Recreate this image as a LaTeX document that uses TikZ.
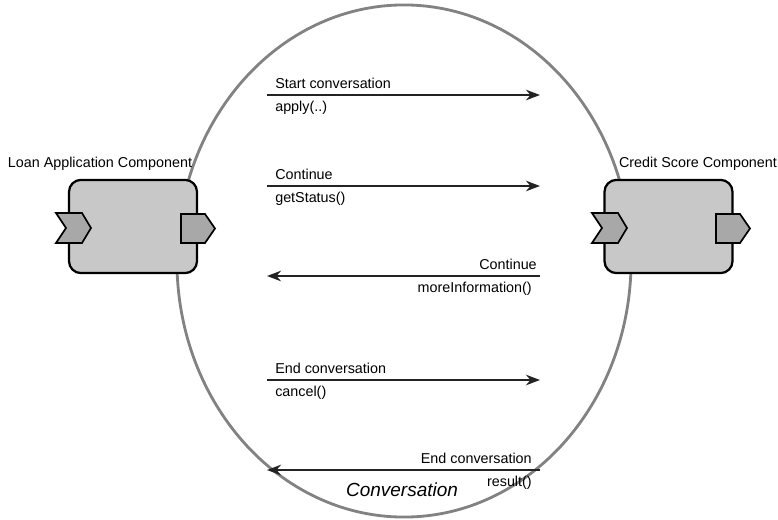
\documentclass[tikz,border=0pt]{standalone}
\usepackage{fontspec}
\setmainfont{Liberation Sans}
\definecolor{ConvGray}{RGB}{130,130,130}
\definecolor{BoxGray}{RGB}{200,200,200}
\definecolor{PortGray}{RGB}{168,168,168}
\definecolor{MsgDark}{RGB}{35,35,35}
\usetikzlibrary{shapes.geometric, arrows.meta, positioning}

\begin{document}
\begin{tikzpicture}[x=0.025cm, y=-0.025cm,
    comp/.style={rounded corners=8.5pt, minimum width=3.2cm, minimum height=2.33cm,
                 draw=black, fill=BoxGray, line width=1.6pt, inner sep=0pt},
    port/.style={draw=black, fill=PortGray, line width=1.2pt, line join=miter},
    msg/.style={-{Stealth[length=10pt, width=7.5pt]}, line width=1.5pt, MsgDark},
    lbl/.style={inner sep=0pt, font=\fontsize{10.2}{12}\selectfont}
  ]
    \useasboundingbox (0,0) rectangle (778,520);

    % Conversation boundary
    \node[ellipse, draw=ConvGray, line width=2pt, inner sep=0pt,
          minimum width=11.35cm, minimum height=12.8cm] (conv) at (404,261) {};
    \node[font=\fontsize{13.5}{16}\selectfont\itshape, inner sep=0pt] (convlbl) at (402,490) {Conversation};

    % Loan application component
    \node[comp] (loan) at (133,226.5) {};
    \node[lbl, anchor=base] (loanlbl) at (100,167) {Loan Application Component};
    \draw[port] (56,213) -- (82,213) -- (91,228) -- (82,243) -- (56,243) -- (66,228) -- cycle;
    \draw[port] (181,214) -- (205,214) -- (215,228.5) -- (205,243) -- (181,243) -- cycle;

    % Credit score component
    \node[comp] (credit) at (668.5,226.5) {};
    \node[lbl, anchor=base] (creditlbl) at (698,167) {Credit Score Component};
    \draw[port] (592,213) -- (618,213) -- (627,228) -- (618,243) -- (592,243) -- (602,228) -- cycle;
    \draw[port] (716,214) -- (740,214) -- (750,228.5) -- (740,243) -- (716,243) -- cycle;

    % Message ends
    \coordinate (m1w) at (267,95);  \coordinate (m1e) at (540,95);
    \coordinate (m2w) at (267,186); \coordinate (m2e) at (540,186);
    \coordinate (m3w) at (267,276); \coordinate (m3e) at (540,276);
    \coordinate (m4w) at (267,380); \coordinate (m4e) at (540,380);
    \coordinate (m5w) at (267,470); \coordinate (m5e) at (540,470);

    % Messages
    \draw[msg] (m1w) -- (m1e);
    \node[lbl, anchor=base west] (m1top) at (275,88) {Start conversation};
    \node[lbl, anchor=base west] (m1bot) at (275,111) {apply(..)};

    \draw[msg] (m2w) -- (m2e);
    \node[lbl, anchor=base west] (m2top) at (275,179) {Continue};
    \node[lbl, anchor=base west] (m2bot) at (275,202) {getStatus()};

    \draw[msg] (m3e) -- (m3w);
    \node[lbl, anchor=base east] (m3top) at (537,269) {Continue};
    \node[lbl, anchor=base east] (m3bot) at (532,292) {moreInformation()};

    \draw[msg] (m4w) -- (m4e);
    \node[lbl, anchor=base west] (m4top) at (275,373) {End conversation};
    \node[lbl, anchor=base west] (m4bot) at (275,396) {cancel()};

    \draw[msg] (m5e) -- (m5w);
    \node[lbl, anchor=base east] (m5top) at (532,463) {End conversation};
    \node[lbl, anchor=base east] (m5bot) at (532,486) {result()};
  \end{tikzpicture}
\end{document}
